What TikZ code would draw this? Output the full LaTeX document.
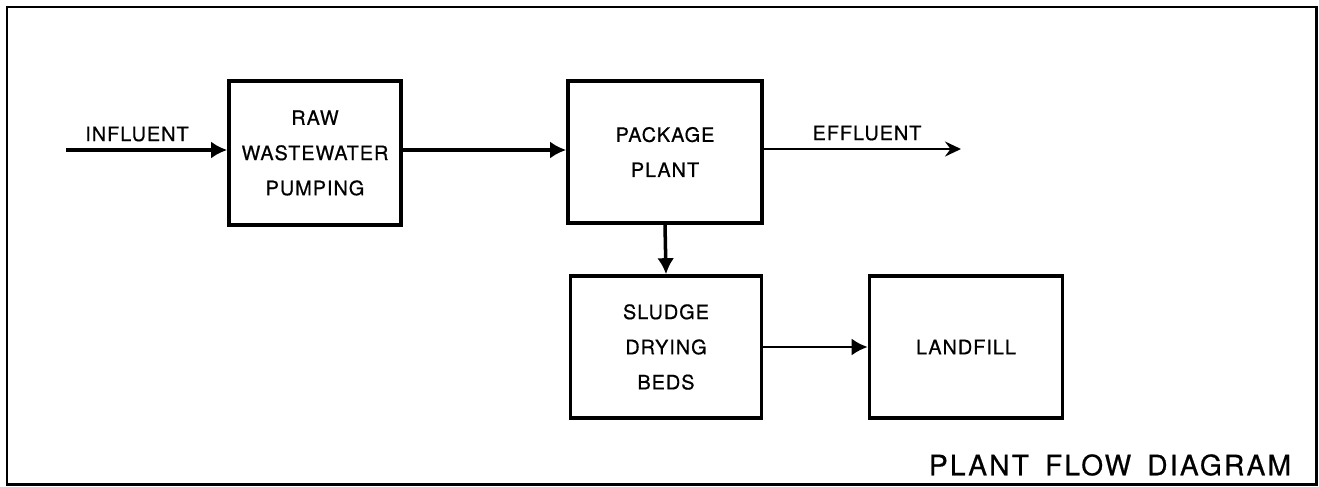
\documentclass[tikz,border=0pt]{standalone}
\usepackage{fontspec}
\usepackage{tikz}
\usetikzlibrary{arrows.meta, positioning, calc}
\newfontfamily\plantfont[LetterSpace=5,FakeBold=0.6]{TeX Gyre Heros}
\newfontfamily\titlefont[LetterSpace=8,WordSpace=1.6,FakeBold=0.6]{TeX Gyre Heros}
\tikzset{
  % Process blocks
  unit/.style={
    rectangle, draw=black, line width=2.1pt, fill=white,
    minimum width=#1, minimum height=2.84cm, align=center,
    font=\plantfont\fontsize{11.3}{20}\selectfont
  },
  unit/.default=3.86cm,
  % Arrow styles
  flow/.style={-{Latex[length=3.2mm,width=3.4mm]}, line width=2pt},
  outflow/.style={-{Stealth[length=3.2mm,width=3mm,inset=1.1mm]}, line width=1.4pt},
  % Labels
  flowlabel/.style={font=\plantfont\fontsize{11.3}{13}\selectfont, inner sep=0pt},
  titlelabel/.style={font=\titlefont\fontsize{16}{18}\selectfont, inner sep=0pt},
}
\begin{document}
\begin{tikzpicture}[x=0.02cm, y=-0.02cm]
  \useasboundingbox (0,0) rectangle (1319,487);
  \draw[line width=1.7pt] (7,7) rectangle (1316,484);

  \node[unit=3.44cm, minimum height=2.88cm] (raw) at (315,153) {RAW\\WASTEWATER\\PUMPING};
  \node[unit=3.88cm] (pkg) at (665,152) {PACKAGE\\PLANT};
  \node[unit=3.82cm] (sludge) at (666,347) {SLUDGE\\DRYING\\BEDS};
  \node[unit=3.86cm] (landfill) at (966,347) {LANDFILL};

  \coordinate (in) at (66,150);
  \coordinate (out) at (961,149);

  \draw[flow] (in) -- (in -| raw.west);
  \draw[flow] (raw.east |- in) -- (pkg.west |- in);
  \draw[outflow] (pkg.east |- out) -- (out);
  \draw[flow] (pkg.south) -- (sludge.north);
  \draw[flow, line width=1.5pt] (sludge.east) -- (landfill.west);

  \node[flowlabel] (influent) at (137,134) {INFLUENT};
  \node[flowlabel] (effluent) at (867,133) {EFFLUENT};
  \node[titlelabel] (title) at (1110,465) {PLANT FLOW DIAGRAM};
\end{tikzpicture}
\end{document}
